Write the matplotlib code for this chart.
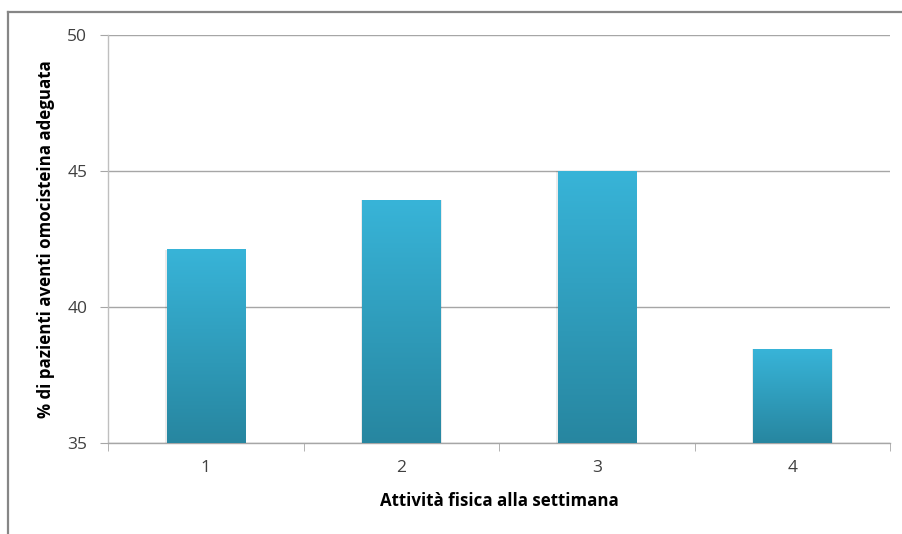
import numpy as np
import matplotlib.pyplot as plt
from matplotlib.lines import Line2D

categories = ['1', '2', '3', '4']
values = [42.1, 43.93, 45.0, 38.45]
y_ticks = [35, 40, 45, 50]

plt.rcParams['font.family'] = ['Open Sans', 'DejaVu Sans']

fig = plt.figure(figsize=(9.02, 5.34), dpi=100)
ax = fig.add_axes([108/902, 1 - 443/534, 782/902, 408/534])

x = np.arange(len(categories))
bars = ax.bar(x, [v - 35 for v in values], bottom=35, width=0.4,
              color='none', edgecolor='none', zorder=3)

# vertical gradient, light at top, dark at bottom
grad = np.linspace(0, 1, 256).reshape(-1, 1)
top_c = np.array([0x38, 0xb4, 0xd8]) / 255
bot_c = np.array([0x27, 0x86, 0xa0]) / 255
img = top_c * (1 - grad[..., None]) + bot_c * grad[..., None]
img = img.reshape(256, 1, 3)

for b in bars:
    x0, y0 = b.get_x(), b.get_y()
    w, h = b.get_width(), b.get_height()
    # soft shadow
    ax.bar(x0 + w / 2, h, bottom=y0, width=w * 1.04, color='#000000',
           alpha=0.08, zorder=2)
    ax.imshow(img, extent=[x0, x0 + w, y0, y0 + h], aspect='auto',
              origin='upper', zorder=3, interpolation='bilinear')

ax.set_xlim(-0.5, 3.5)
ax.set_ylim(35, 50)
ax.set_yticks(y_ticks)
ax.set_xticks(x)
ax.set_xticklabels(categories)
ax.set_xticks(np.arange(-0.5, 4.0, 1.0), minor=True)
ax.tick_params(axis='x', which='major', length=0, pad=12, labelsize=12.5, labelcolor='#404040')
ax.tick_params(axis='x', which='minor', length=6, color='#a6a6a6', direction='out')
ax.tick_params(axis='y', length=6, color='#a6a6a6', direction='out', pad=9,
               labelsize=12.5, labelcolor='#404040')

ax.grid(axis='y', color='#a6a6a6', linewidth=1.0, zorder=0)
ax.set_axisbelow(True)
for s in ['top', 'right']:
    ax.spines[s].set_visible(False)
ax.spines['left'].set_color('#bfbfbf')
ax.spines['bottom'].set_color('#a6a6a6')
ax.spines['left'].set_linewidth(1.0)
ax.spines['bottom'].set_linewidth(1.0)

ax.set_xlabel('Attività fisica alla settimana', fontsize=12.2, fontweight='bold',
              labelpad=12, color='#000000')
ax.set_ylabel('% di pazienti aventi omocisteina adeguata', fontsize=12.2,
              fontweight='bold', labelpad=9, color='#000000')

# outer frame (top and left edges visible)
fig.add_artist(Line2D([8/902, 8/902], [0, 1 - 12/534], transform=fig.transFigure,
                      color='#868686', linewidth=1.6))
fig.add_artist(Line2D([8/902, 1], [1 - 12/534, 1 - 12/534], transform=fig.transFigure,
                      color='#868686', linewidth=1.6))

fig.savefig('out.png', dpi=100)
